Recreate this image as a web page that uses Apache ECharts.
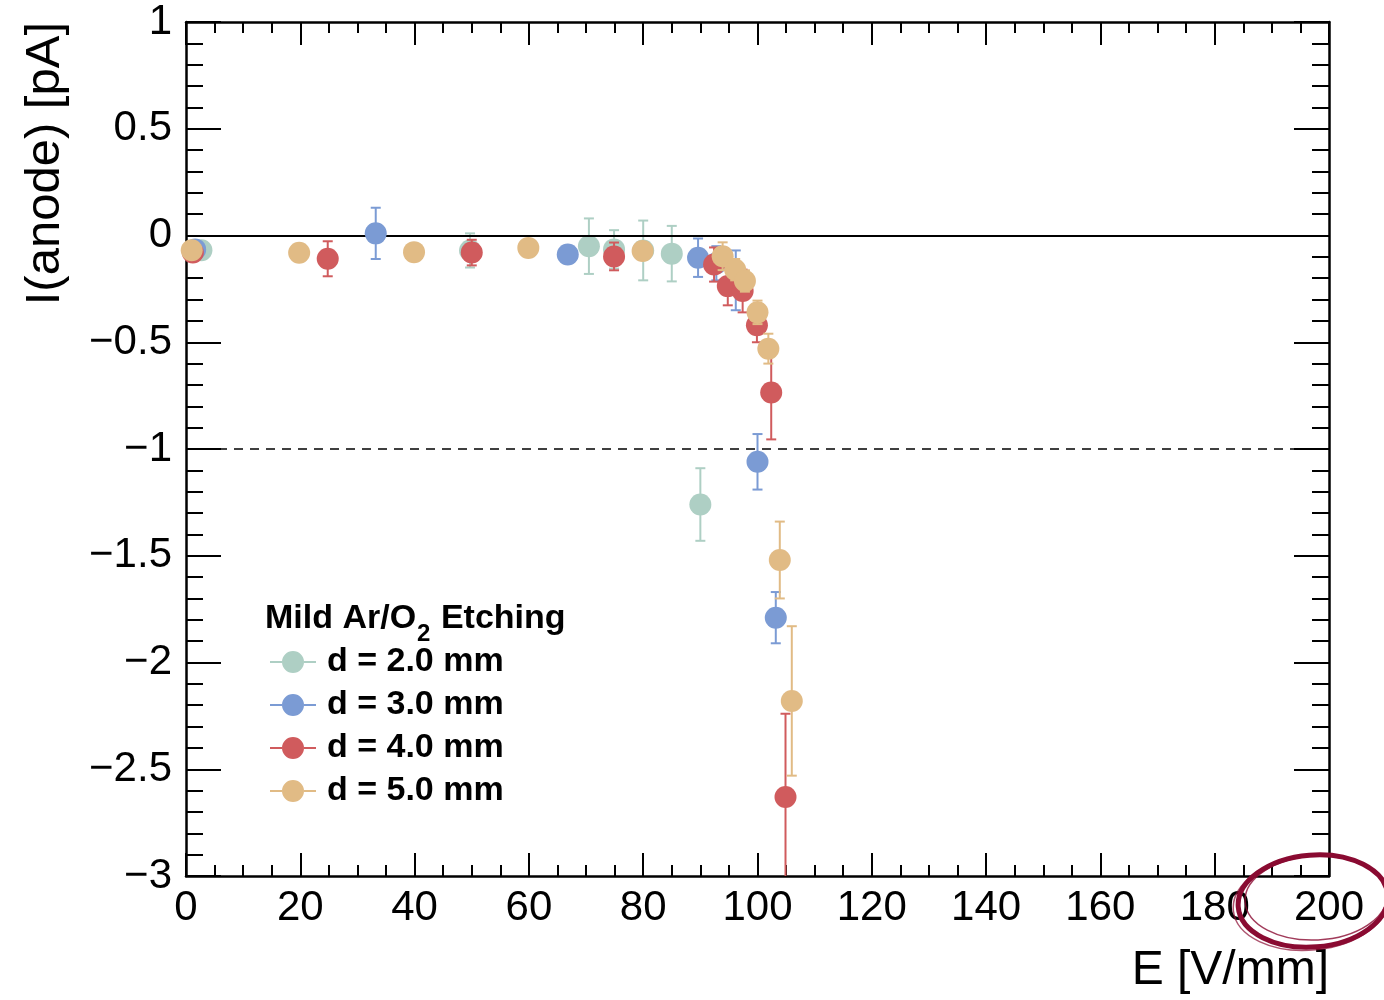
<!DOCTYPE html>
<html>
<head>
<meta charset="utf-8">
<script src="https://cdn.jsdelivr.net/npm/echarts@6/dist/echarts.min.js"></script>
<style>html,body{margin:0;padding:0;background:#fff;}#c{width:1384px;height:1000px;}</style>
</head>
<body>
<div id="c"></div>
<script>
// ---- data (E [V/mm], I(anode) [pA], error) ----
const d20_E   = [2.7, 49.7, 70.5, 74.9, 80.0, 85.0, 90.0];
const d20_I   = [-0.069, -0.07, -0.05, -0.065, -0.07, -0.085, -1.26];
const d20_err = [0.03, 0.08, 0.13, 0.09, 0.14, 0.13, 0.17];

const d30_E   = [1.6, 33.2, 66.8, 89.6, 92.8, 96.2, 100.0, 103.2];
const d30_I   = [-0.065, 0.01, -0.089, -0.104, -0.13, -0.21, -1.06, -1.79];
const d30_err = [0.03, 0.12, 0.03, 0.09, 0.08, 0.14, 0.13, 0.12];

const d40_E   = [1.2, 24.8, 50.0, 74.9, 92.4, 94.8, 97.4, 99.9, 102.4, 104.9];
const d40_I   = [-0.08, -0.109, -0.08, -0.098, -0.136, -0.237, -0.26, -0.42, -0.735, -2.63];
const d40_err = [0.03, 0.082, 0.06, 0.065, 0.08, 0.09, 0.1, 0.08, 0.22, 0.39];

const d50_E   = [1.0, 19.8, 39.9, 59.9, 79.9, 93.9, 96.1, 97.8, 100.0, 101.9, 103.9, 106.0];
const d50_I   = [-0.069, -0.081, -0.078, -0.058, -0.073, -0.097, -0.16, -0.213, -0.36, -0.53, -1.52, -2.18];
const d50_err = [0.03, 0.03, 0.03, 0.03, 0.03, 0.065, 0.05, 0.05, 0.055, 0.07, 0.18, 0.35];

const seriesNames = ['d = 2.0 mm', 'd = 3.0 mm', 'd = 4.0 mm', 'd = 5.0 mm'];
const legendTitleParts = ['Mild Ar/O', '2', ' Etching'];
const xTitle = 'E [V/mm]';
const yTitle = 'I(anode) [pA]';
const refLines = [0, -1];

// ---- styling ----
const colors = ['#aecfc4', '#7b9bd4', '#d05b5d', '#e1bb85'];
const FONT = '"Liberation Sans", Arial, Helvetica, sans-serif';
const sets = [[d20_E, d20_I, d20_err], [d30_E, d30_I, d30_err], [d40_E, d40_I, d40_err], [d50_E, d50_I, d50_err]];
const YMIN = -3, YMAX = 1;

function rows(s) { return s[0].map((x, i) => [x, s[1][i], s[2][i]]); }

function makeErrRender(color) {
  return function (params, api) {
    const x = api.value(0), y = api.value(1), e = api.value(2);
    const top = y + e, bot = y - e;
    const p1 = api.coord([x, Math.min(top, YMAX)]);
    const p2 = api.coord([x, Math.max(bot, YMIN)]);
    const cw = 5;
    const st = { stroke: color, lineWidth: 2, fill: null };
    const children = [{ type: 'line', shape: { x1: p1[0], y1: p1[1], x2: p2[0], y2: p2[1] }, style: st }];
    if (top <= YMAX) children.push({ type: 'line', shape: { x1: p1[0] - cw, y1: p1[1], x2: p1[0] + cw, y2: p1[1] }, style: st });
    if (bot >= YMIN) children.push({ type: 'line', shape: { x1: p2[0] - cw, y1: p2[1], x2: p2[0] + cw, y2: p2[1] }, style: st });
    return { type: 'group', children: children };
  };
}

const series = [];
series.push({
  type: 'line', name: 'ref', data: [], z: 1, silent: true,
  markLine: {
    symbol: 'none', silent: true, label: { show: false },
    data: [
      { yAxis: refLines[0], lineStyle: { color: '#000', width: 2, type: 'solid' } },
      { yAxis: refLines[1], lineStyle: { color: '#000', width: 1.6, type: [9, 7] } }
    ]
  }
});
sets.forEach((s, i) => {
  series.push({
    type: 'custom', name: 'err' + i, z: 2 + 2 * i, silent: true,
    renderItem: makeErrRender(colors[i]),
    encode: { x: 0, y: 1 },
    data: rows(s)
  });
  series.push({
    type: 'scatter', name: seriesNames[i], z: 3 + 2 * i,
    symbol: 'circle', symbolSize: 22,
    itemStyle: { color: colors[i], opacity: 1 },
    data: rows(s).map(r => [r[0], r[1]])
  });
});

const iconPath = 'path://M0,10h12v2H0z M34,10h12v2H34z M12,11a11,11 0 1,0 22,0a11,11 0 1,0 -22,0z';

// legend title measured pieces (subscript)
const TF_MAIN = 'bold 34px ' + FONT, TF_SUB = 'bold 24px ' + FONT;
const mctx = document.createElement('canvas').getContext('2d');
mctx.font = TF_MAIN; const w1 = mctx.measureText(legendTitleParts[0]).width;
mctx.font = TF_SUB; const w2 = mctx.measureText(legendTitleParts[1]).width;
const TX = 265, TY = 619;

const axisLineStyle = { color: '#000', width: 2.5 };
const tickStyle = { color: '#000', width: 2 };

const chart = echarts.init(document.getElementById('c'), null, { renderer: 'canvas' });
chart.setOption({
  backgroundColor: '#fff',
  animation: false,
  grid: { left: 186, right: 55, top: 22, bottom: 124, containLabel: false },
  legend: {
    orient: 'vertical', left: 270, top: 645, padding: 0,
    itemWidth: 46, itemHeight: 22, itemGap: 9,
    data: seriesNames.map(n => ({ name: n, icon: iconPath })),
    textStyle: { fontFamily: FONT, fontSize: 34, fontWeight: 'bold', color: '#000', padding: [0, 0, 0, 6] },
    selectedMode: false
  },
  xAxis: [{
    type: 'value', position: 'bottom', min: 0, max: 200, interval: 20,
    axisLine: { show: true, onZero: false, lineStyle: axisLineStyle },
    axisTick: { show: true, inside: true, length: 23, lineStyle: tickStyle },
    minorTick: { show: true, splitNumber: 4, length: 11, lineStyle: tickStyle },
    splitLine: { show: false },
    axisLabel: { fontFamily: FONT, fontSize: 42, color: '#000', margin: 11 }
  }, {
    type: 'value', position: 'top', min: 0, max: 200, interval: 20,
    axisLine: { show: true, onZero: false, lineStyle: axisLineStyle },
    axisTick: { show: true, inside: true, length: 23, lineStyle: tickStyle },
    minorTick: { show: true, splitNumber: 4, length: 11, lineStyle: tickStyle },
    splitLine: { show: false },
    axisLabel: { show: false }
  }],
  yAxis: [{
    type: 'value', position: 'left', min: YMIN, max: YMAX, interval: 0.5,
    axisLine: { show: true, onZero: false, lineStyle: axisLineStyle },
    axisTick: { show: true, inside: true, length: 35, lineStyle: tickStyle },
    minorTick: { show: true, splitNumber: 5, length: 17, lineStyle: tickStyle },
    splitLine: { show: false },
    axisLabel: {
      fontFamily: FONT, fontSize: 42, color: '#000', margin: 14, padding: [6, 0, 0, 0],
      formatter: v => (v === 0 ? '0' : String(v).replace('-', '\u2212'))
    }
  }, {
    type: 'value', position: 'right', min: YMIN, max: YMAX, interval: 0.5,
    axisLine: { show: true, onZero: false, lineStyle: axisLineStyle },
    axisTick: { show: true, inside: true, length: 35, lineStyle: tickStyle },
    minorTick: { show: true, splitNumber: 5, length: 17, lineStyle: tickStyle },
    splitLine: { show: false },
    axisLabel: { show: false }
  }],
  graphic: [
    { type: 'text', x: TX, y: TY, z: 10,
      style: { text: legendTitleParts[0], font: TF_MAIN, fill: '#000', textAlign: 'left', textVerticalAlign: 'middle' } },
    { type: 'text', x: TX + w1 + 1, y: TY + 15, z: 10,
      style: { text: legendTitleParts[1], font: TF_SUB, fill: '#000', textAlign: 'left', textVerticalAlign: 'middle' } },
    { type: 'text', x: TX + w1 + w2 + 2, y: TY, z: 10,
      style: { text: legendTitleParts[2], font: TF_MAIN, fill: '#000', textAlign: 'left', textVerticalAlign: 'middle' } },
    {
      type: 'text', x: 1329, y: 971, z: 10,
      style: { text: xTitle, font: '48px ' + FONT, fill: '#000', textAlign: 'right', textVerticalAlign: 'middle' }
    },
    {
      type: 'text', x: 45, y: 22, rotation: Math.PI / 2, z: 10,
      style: { text: yTitle, font: '49px ' + FONT, fill: '#000', textAlign: 'right', textVerticalAlign: 'middle' }
    },
    {
      type: 'ellipse', z: 20, silent: true,
      shape: { cx: 1313, cy: 901, rx: 75, ry: 46 },
      originX: 1313, originY: 901, rotation: 0.08,
      style: { fill: null, stroke: '#8a0b32', lineWidth: 5 }
    },
    {
      type: 'ellipse', z: 20, silent: true,
      shape: { cx: 1316, cy: 898, rx: 71, ry: 42 },
      originX: 1316, originY: 898, rotation: 0.05,
      style: { fill: null, stroke: '#8a0b32', lineWidth: 1.5, opacity: 0.8 }
    },
    {
      type: 'ellipse', z: 20, silent: true,
      shape: { cx: 1311, cy: 903, rx: 78, ry: 47 },
      originX: 1311, originY: 903, rotation: 0.1,
      style: { fill: null, stroke: '#8a0b32', lineWidth: 1.5, opacity: 0.7 }
    }
  ],
  series: series
});
</script>
</body>
</html>
